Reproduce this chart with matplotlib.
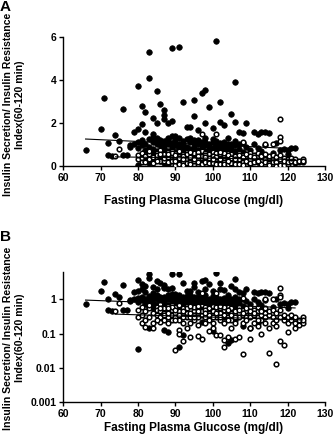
import numpy as np
import matplotlib
matplotlib.use("Agg")
import matplotlib.pyplot as plt
from matplotlib.ticker import FixedLocator, FixedFormatter, NullLocator

plt.rcParams['font.family'] = ['Liberation Sans', 'DejaVu Sans']
plt.rcParams['font.weight'] = 'bold'

# filled circles (group 1): glucose, index
fill_x = [66, 70, 71, 72, 72, 73, 74, 75, 76, 76, 77, 78, 79, 80, 80, 81, 81, 82, 82, 83,
          83, 84, 84, 85, 85, 86, 87, 87, 87, 88, 88, 89, 89, 90, 91, 92, 93, 94, 95, 95,
          96, 97, 98, 98, 99, 100, 101, 102, 102, 103, 104, 105, 106, 106, 107, 108, 109, 111, 112, 113,
          114, 115, 117, 119, 120, 121, 122,
          78, 79, 80, 80, 81, 81, 82, 82, 83, 83, 83, 84, 84, 84, 85, 85, 85, 85, 86, 86,
          86, 86, 87, 87, 87, 88, 88, 88, 88, 89, 89, 89, 89, 90, 90, 90, 90, 91, 91, 91,
          91, 92, 92, 92, 93, 93, 93, 94, 94, 94, 95, 95, 95, 96, 96, 96, 97, 97, 97, 98,
          98, 98, 99, 99, 99, 100, 100, 100, 101, 101, 102, 102, 102, 103, 103, 104, 104, 105, 105, 106,
          106, 107, 108, 108, 109, 110, 111, 112, 113, 114, 116, 118, 120,
          80, 91, 104, 105, 87, 88, 83, 100, 108, 110, 92, 86, 95, 97, 99, 101, 103, 106, 112]
fill_y = [0.75, 1.7, 3.15, 1.05, 0.5, 0.45, 1.45, 1.15, 2.65, 0.5, 0.5, 0.95, 1.6, 3.7, 1.7, 2.8, 1.95, 2.5, 1.6, 5.3,
          4.1, 2.25, 1.5, 3.5, 2.0, 2.9, 2.6, 2.35, 2.2, 2.0, 1.3, 5.5, 2.1, 1.4, 5.55, 2.95, 1.8, 1.8, 3.05, 2.3,
          1.65, 3.4, 3.55, 2.0, 2.75, 1.75, 5.8, 2.05, 2.95, 1.9, 1.3, 2.4, 3.9, 2.05, 1.6, 1.55, 2.0, 1.6, 1.5, 1.6,
          1.6, 1.55, 1.05, 0.8, 0.75, 0.85, 0.85,
          0.9, 1.0, 1.1, 0.85, 1.2, 0.95, 1.0, 0.75, 1.25, 0.9, 0.6, 1.1, 0.8, 0.55, 1.3, 1.0, 0.7, 0.45, 1.2, 0.95,
          0.65, 0.4, 1.15, 0.85, 0.6, 1.25, 1.0, 0.7, 0.5, 1.4, 1.05, 0.8, 0.55, 1.2, 0.95, 0.65, 0.45, 1.3, 1.0, 0.75,
          0.5, 1.15, 0.85, 0.6, 1.25, 0.9, 0.65, 1.1, 0.8, 0.5, 1.2, 0.9, 0.6, 1.0, 0.75, 0.5, 1.1, 0.85, 0.6, 1.3,
          0.95, 0.7, 1.0, 0.75, 0.5, 1.1, 0.85, 0.6, 0.95, 0.7, 1.05, 0.8, 0.55, 0.9, 0.65, 1.0, 0.75, 0.85, 0.6, 0.95,
          0.7, 0.8, 1.05, 0.65, 0.9, 0.75, 1.0, 0.85, 0.7, 0.95, 0.6, 0.75, 0.55,
          0.035, 0.04, 0.055, 0.065, 0.13, 0.11, 0.15, 0.12, 0.17, 0.15, 0.09, 0.25, 0.3, 0.22, 0.28, 0.35, 0.3, 0.25, 0.2]

# more filled circles in the crowded middle
fill_x2 = [84, 85, 86, 87, 88, 89, 90, 91, 92, 93, 94, 95, 96, 97, 98, 99, 100, 101, 102, 103,
           104, 105, 106, 107, 86, 88, 90, 92, 94, 96, 98, 100, 102, 104,
           87, 89, 91, 93, 95, 97, 99, 101, 103, 105]
fill_y2 = [1.35, 1.15, 1.05, 0.95, 1.15, 0.9, 1.05, 0.85, 1.0, 0.8, 1.3, 1.05, 1.2, 0.95, 1.1, 0.9, 1.25, 1.15, 0.95, 1.1,
           0.85, 1.0, 1.15, 1.0, 0.55, 0.6, 0.55, 0.5, 0.65, 0.6, 0.55, 0.45, 0.65, 0.5,
           0.75, 0.65, 0.85, 0.55, 0.75, 0.5, 0.65, 0.85, 0.55, 0.7]

# open circles (group 2): glucose, index
open_x = [75, 74, 80, 80, 81, 81, 81, 82, 82, 82, 83, 83, 83, 84, 84, 84, 85, 85, 85, 86,
          86, 86, 86, 87, 87, 87, 88, 88, 88, 88, 89, 89, 89, 89, 90, 90, 90, 90, 91, 91,
          91, 91, 91, 92, 92, 92, 92, 93, 93, 93, 93, 94, 94, 94, 94, 95, 95, 95, 95, 96,
          96, 96, 96, 96, 97, 97, 97, 97, 97, 98, 98, 98, 98, 99, 99, 99, 99, 100, 100, 100,
          100, 100, 101, 101, 101, 101, 101, 102, 102, 102, 102, 103, 103, 103, 103, 103, 104, 104, 104, 104,
          105, 105, 105, 105, 106, 106, 106, 106, 107, 107, 107, 107, 108, 108, 108, 108, 108, 109, 109, 109,
          110, 110, 110, 110, 110, 111, 111, 111, 112, 112, 112, 112, 113, 113, 113, 113, 114, 114, 114, 114,
          115, 115, 115, 115, 116, 116, 116, 116, 117, 117, 117, 117, 118, 118, 118, 118, 118, 118, 119, 119,
          119, 120, 120, 120, 121, 121, 122, 122, 122, 123, 123, 124, 124, 124]
open_y = [0.8, 0.45, 0.3, 0.5, 0.35, 0.6, 0.2, 0.45, 0.25, 0.16, 0.3, 0.55, 0.7, 0.4, 0.2, 0.15, 0.35, 0.6, 0.5, 0.3,
          0.45, 0.75, 0.22, 0.4, 0.55, 0.25, 0.3, 0.65, 0.45, 0.2, 0.35, 0.5, 0.7, 0.25, 0.4, 0.6, 0.3, 0.033, 0.45, 0.25,
          0.13, 0.1, 0.7, 0.35, 0.55, 0.2, 0.06, 0.4, 0.65, 0.3, 0.15, 0.5, 0.3, 0.2, 0.08, 0.45, 0.6, 0.35, 0.25, 0.4,
          0.55, 0.3, 0.085, 0.18, 0.5, 0.35, 0.7, 0.07, 1.5, 0.45, 0.3, 0.6, 0.2, 0.4, 0.55, 0.25, 0.12, 0.5, 0.35, 0.65,
          0.2, 0.15, 0.45, 0.3, 1.5, 0.6, 0.09, 0.4, 0.55, 0.25, 0.09, 0.35, 0.5, 0.2, 0.042, 0.065, 0.45, 0.3, 0.6, 0.08,
          0.4, 0.25, 0.55, 0.15, 0.35, 0.5, 0.2, 0.07, 0.4, 0.3, 0.6, 0.08, 0.35, 0.5, 0.2, 0.025, 1.1, 0.3, 0.45, 0.25,
          0.4, 0.3, 0.6, 0.07, 0.15, 0.35, 0.5, 0.2, 0.3, 0.45, 0.6, 0.17, 0.35, 0.25, 0.1, 0.5, 0.4, 0.3, 1.0, 0.2,
          0.35, 0.15, 0.028, 0.45, 0.3, 0.5, 0.2, 1.0, 0.25, 0.17, 0.013, 0.4, 2.2, 1.35, 1.15, 0.06, 0.3, 0.5, 0.047, 0.35,
          0.25, 0.11, 0.3, 0.2, 0.25, 0.35, 0.15, 0.3, 0.2, 0.18, 0.25, 0.3, 0.2, 0.25]

# more open circles in the crowded middle
open_x2 = [85, 86, 87, 88, 89, 90, 91, 92, 93, 94, 95, 96, 97, 98, 99, 100, 101, 102, 103, 104,
           105, 106, 107, 108, 109, 110, 111, 112, 113, 114, 88, 90, 92, 94, 96, 98, 100, 102, 104, 106]
open_y2 = [0.25, 0.55, 0.35, 0.4, 0.6, 0.5, 0.35, 0.45, 0.55, 0.4, 0.3, 0.65, 0.45, 0.5, 0.35, 0.45, 0.4, 0.3, 0.6, 0.5,
           0.35, 0.45, 0.5, 0.4, 0.55, 0.45, 0.4, 0.25, 0.45, 0.55, 0.55, 0.25, 0.3, 0.65, 0.45, 0.4, 0.3, 0.65, 0.25, 0.3]

# regression lines (endpoints)
lineA_fill = ([66, 122], [1.25, 0.8])
lineA_open = ([74, 122], [0.42, 0.3])
lineB_fill = ([66, 122], [0.95, 0.56])
lineB_open = ([74, 124], [0.37, 0.25])

xticks = [60, 70, 80, 90, 100, 110, 120, 130]
ylab = "Insulin Secretion/ Insulin Resistance\nIndex(60-120 min)"
xlab = "Fasting Plasma Glucose (mg/dl)"

fx = fill_x + fill_x2
fy = fill_y + fill_y2
ox = open_x + open_x2
oy = open_y + open_y2

fig = plt.figure(figsize=(3.34, 4.4), dpi=100)
axA = fig.add_axes([0.189, 0.623, 0.784, 0.293])
axB = fig.add_axes([0.189, 0.086, 0.784, 0.296])


def style(ax, pad):
    for s in ['top', 'right']:
        ax.spines[s].set_visible(False)
    for s in ['left', 'bottom']:
        ax.spines[s].set_linewidth(1.0)
    ax.tick_params(direction='out', length=3, width=1, labelsize=7.5, pad=2)
    ax.set_xlim(60, 130)
    ax.set_xticks(xticks)
    ax.set_xlabel(xlab, fontsize=8.5, fontweight='bold', labelpad=pad)


for ax, lf, lo, pad in [(axA, lineA_fill, lineA_open, 9), (axB, lineB_fill, lineB_open, 2)]:
    ax.scatter(fx, fy, s=16, c='black', edgecolors='black', linewidths=0.5, zorder=2)
    ax.scatter(ox, oy, s=11, c='white', edgecolors='black', linewidths=1.1, zorder=3)
    ax.plot(*lf, color='black', lw=0.8, zorder=4)
    ax.plot(*lo, color='black', lw=0.8, zorder=4)
    style(ax, pad)

axA.set_ylim(0, 6)
axA.set_yticks([0, 2, 4, 6])

axB.set_yscale('log')
axB.set_ylim(0.001, 6.3)
axB.yaxis.set_major_locator(FixedLocator([0.001, 0.01, 0.1, 1]))
axB.yaxis.set_major_formatter(FixedFormatter(['0.001', '0.01', '0.1', '1']))
axB.yaxis.set_minor_locator(NullLocator())

for ax in (axA, axB):
    for lbl in ax.get_xticklabels() + ax.get_yticklabels():
        lbl.set_fontweight('bold')

fig.text(0.042, 0.762, ylab, rotation=90, ha='center', va='center', fontsize=7.6, fontweight='bold')
fig.text(0.042, 0.232, ylab, rotation=90, ha='center', va='center', fontsize=7.6, fontweight='bold')
fig.text(0.0, 1.0, "A", ha='left', va='top', fontsize=11, fontweight='bold')
fig.text(0.0, 0.478, "B", ha='left', va='top', fontsize=11, fontweight='bold')

fig.savefig("out.png", dpi=100)
